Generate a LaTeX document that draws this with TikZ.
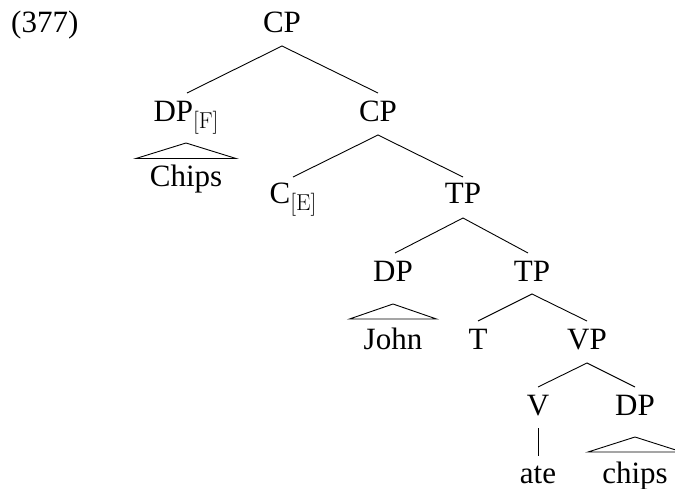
\documentclass[tikz,border=0pt]{standalone}
\usepackage{fontspec}
\setmainfont{Liberation Serif}
\newfontfamily\lmfont{Latin Modern Roman}
\usetikzlibrary{calc}
\newcommand{\featsub}[1]{\raisebox{-6.5pt}{\lmfont\fontsize{23}{26}\selectfont[#1]}}
\begin{document}
\begin{tikzpicture}[x=1pt,y=-1pt,
  lbl/.style={anchor=base,inner sep=0pt,font=\fontsize{31}{36}\selectfont},
  edge/.style={line width=0.9pt},
  tri/.style={line width=0.9pt}]
\useasboundingbox[fill=white] (0,0) rectangle (675,489);
% labels
\node[lbl,anchor=base west] (ex) at (11,33) {(377)};
\node[lbl] (cp) at (282,33) {CP};
\node[lbl] (dpf) at (186,122) {DP\featsub{F}};
\node[lbl] (cp2) at (378,122) {CP};
\node[lbl] (chipsA) at (186,187) {Chips};
\node[lbl] (ce) at (293,204) {C\featsub{E}};
\node[lbl] (tp1) at (463,204) {TP};
\node[lbl] (dp) at (393,281) {DP};
\node[lbl] (tp2) at (532,281) {TP};
\node[lbl] (john) at (393,349) {John};
\node[lbl] (t) at (478,349) {T};
\node[lbl] (vp) at (587,349) {VP};
\node[lbl] (v) at (538,415) {V};
\node[lbl] (dp2) at (635,415) {DP};
\node[lbl] (ate) at (538,483) {ate};
\node[lbl] (chipsB) at (635,483) {chips};
% branches
\draw[edge] ($(dpf.base)+(1,-29)$) -- ($(cp.base)+(0,13)$) -- ($(cp2.base)+(0,-29)$);
\draw[edge] ($(ce.base)+(0,-27)$) -- ($(cp2.base)+(0,13)$) -- ($(tp1.base)+(0,-27)$);
\draw[edge] ($(dp.base)+(2,-28)$) -- ($(tp1.base)+(0,14)$) -- ($(tp2.base)+(-4,-28)$);
\draw[edge] ($(t.base)+(0,-28)$) -- ($(tp2.base)+(0,13)$) -- ($(vp.base)+(0,-28)$);
\draw[edge] ($(v.base)+(0,-28)$) -- ($(vp.base)+(0,14)$) -- ($(dp2.base)+(0,-28)$);
\draw[edge] ($(v.base)+(0,13)$) -- ($(ate.base)+(0,-27)$);
% triangles
\draw[tri] ($(dpf.base)+(0,21)$) -- ++(-50,15.5) -- ++(100,0) -- cycle;
\draw[tri] ($(dp.base)+(0,23)$) -- ++(-43.5,15) -- ++(87,0) -- cycle;
\draw[tri] ($(dp2.base)+(0,22)$) -- ++(-47,15) -- ++(94,0) -- cycle;
\end{tikzpicture}
\end{document}
